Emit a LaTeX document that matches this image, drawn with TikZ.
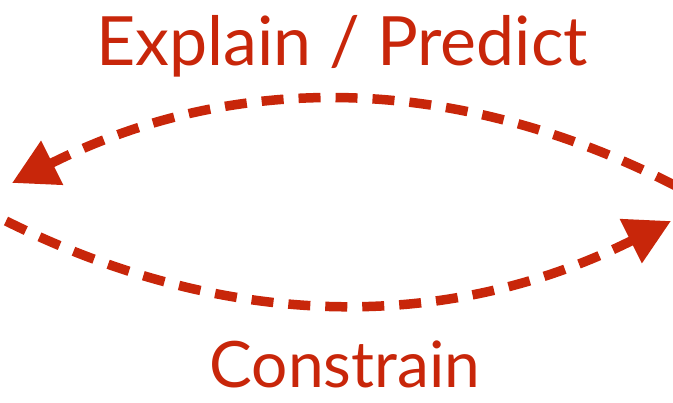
\documentclass[tikz,border=0pt]{standalone}
\usepackage{fontspec}
\setmainfont{Lato}
\usetikzlibrary{arrows.meta}
\definecolor{Brick}{HTML}{C8260A}
\begin{document}
\begin{tikzpicture}[x=1pt,y=-1pt,every node/.style={text=Brick,font=\fontsize{68}{68}\selectfont,inner sep=0pt},arc/.style={draw=Brick,line width=9.5pt,dash pattern=on 22pt off 15pt,-{Triangle[length=45pt,width=47pt]}}]
\useasboundingbox (0,0) rectangle (673,403);
\node (explain) at (342,46) {Explain / Predict};
\node[font=\fontsize{64}{64}\selectfont] (constrain) at (345,364) {Constrain};
\coordinate (topR) at (676,186);\coordinate (topL) at (12,183);
\coordinate (botL) at (6,221);\coordinate (botR) at (671,221);
\draw[arc] (topR) .. controls (453,72) and (233,72) .. (topL);
\draw[arc] (botL) .. controls (229,332) and (449,332) .. (botR);
\end{tikzpicture}
\end{document}
